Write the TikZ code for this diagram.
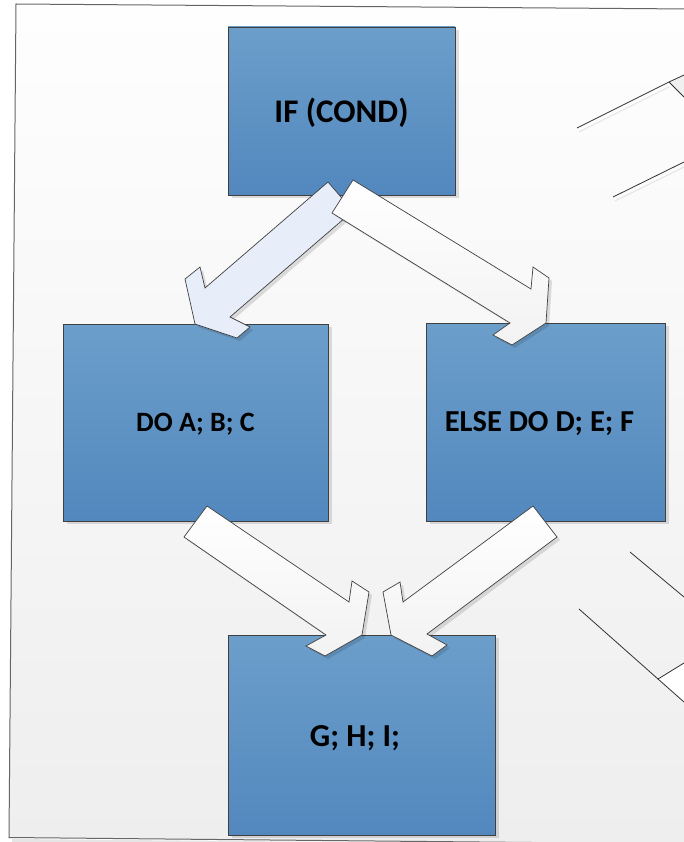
\documentclass[tikz,border=0pt]{standalone}
\usepackage{fontspec}
\setmainfont{Carlito}
\usetikzlibrary{shadows}
\definecolor{boxtop}{RGB}{108,158,202}
\definecolor{boxbot}{RGB}{82,136,190}
\definecolor{edgecol}{RGB}{64,64,64}
\definecolor{paletop}{RGB}{232,238,249}
\definecolor{pagetop}{RGB}{254,254,254}
\definecolor{pagebot}{RGB}{238,238,238}
\tikzset{
  bluebox/.style={draw=edgecol, line width=0.8pt, top color=boxtop, bottom color=boxbot,
    inner sep=0pt,
    drop shadow={shadow xshift=4pt, shadow yshift=-3pt, fill=black, opacity=0.12}},
  txtsize/.style={font=\bfseries\fontsize{#1}{#1}\selectfont, text=black, inner sep=0pt},
  blockarrow/.style={draw=edgecol, line width=0.7pt, line join=miter},
  whitearrow/.style={blockarrow, top color=white, bottom color=black!5},
  bluearrow/.style={blockarrow, fill=paletop},
  arrowshadow/.style={fill=black, opacity=0.12},
  sideline/.style={draw=black!80, line width=0.8pt},
  sideshadow/.style={draw=black!12, line width=0.8pt}
}
\begin{document}
\begin{tikzpicture}[x=1pt,y=-1pt]
\useasboundingbox (0,0) rectangle (684,842);
\fill[white] (0,0) rectangle (684,842);
% page
\fill[black!10] (12,839) -- (690,845) -- (690,848) -- (12,843) -- cycle;
\shade[top color=pagetop, bottom color=pagebot] (16,4) -- (690,9) -- (690,844) -- (9,837.5) -- cycle;
\draw[black!60, line width=1pt] (690,9) -- (16,4) -- (9,837.5) -- (690,844);

% right side fragments
\fill[black!6] (669,82) -- (684,75) -- (684,97) -- cycle;
\fill[white] (658,679) -- (684,663) -- (684,702) -- cycle;
\draw[sideshadow] (579,132) -- (669,87);
\draw[sideshadow] (615,201) -- (684,167);
\draw[sideline] (577,128) -- (669,82) -- (684,75);
\draw[sideline] (669,82) -- (684,97);
\draw[sideline] (613,197) -- (684,162);
\draw[sideline] (630,552) -- (684,597);
\draw[sideline] (579,609) -- (658,679) -- (684,663);
\draw[sideline] (658,679) -- (684,702);

% boxes
\node[bluebox, minimum width=227pt, minimum height=168pt] (cond) at (341.5,111) {};
\node[bluebox, minimum width=265pt, minimum height=197pt] (doabc) at (195.5,422.5) {};
\node[bluebox, minimum width=239pt, minimum height=198pt] (dodef) at (545.5,422) {};
\node[bluebox, minimum width=267pt, minimum height=200pt] (ghi) at (361.5,735) {};
% labels
\node[txtsize=33] (condtext) at (341.5,113) {IF (COND)};
\node[txtsize=28] (doabctext) at (195.5,424) {DO A; B; C};
\node[txtsize=30.5] (dodeftext) at (539.5,424) {ELSE DO D; E; F};
\node[txtsize=32] (ghitext) at (355,738) {G; H; I;};

% arrow IF -> DO (light blue)
\fill[arrowshadow] (331,185) -- (208,291) -- (203,270) -- (188,282) -- (198,327) -- (240,341) -- (253,330) -- (233,320) -- (356,214) -- cycle;
\draw[bluearrow] (328,182) -- (205,288) -- (200,267) -- (185,279) -- (195,324) -- (237,338) -- (250,327) -- (230,317) -- (353,211) -- cycle;

% arrow IF -> ELSE (white)
\fill[arrowshadow] (356,183) -- (534,292) -- (536,270) -- (552,281) -- (549,326) -- (515,348) -- (496,338) -- (513,326) -- (335,216) -- cycle;
\draw[whitearrow] (353,180) -- (531,289) -- (533,267) -- (549,278) -- (546,323) -- (512,345) -- (493,335) -- (510,323) -- (332,213) -- cycle;

% arrow DO -> GHI (white)
\fill[arrowshadow] (210,509) -- (352,605) -- (355,584) -- (372,595) -- (365,638) -- (328,659) -- (309,649) -- (329,638) -- (187,540) -- cycle;
\draw[whitearrow] (207,506) -- (349,602) -- (352,581) -- (369,592) -- (362,635) -- (325,656) -- (306,646) -- (326,635) -- (184,537) -- cycle;

% arrow ELSE -> GHI (white)
\fill[arrowshadow] (536,509) -- (406,605) -- (403,585) -- (386,595) -- (394,638) -- (435,659) -- (450,648) -- (430,637) -- (560,540) -- cycle;
\draw[whitearrow] (533,506) -- (403,602) -- (400,582) -- (383,592) -- (391,635) -- (432,656) -- (447,645) -- (427,634) -- (557,537) -- cycle;
\end{tikzpicture}
\end{document}
